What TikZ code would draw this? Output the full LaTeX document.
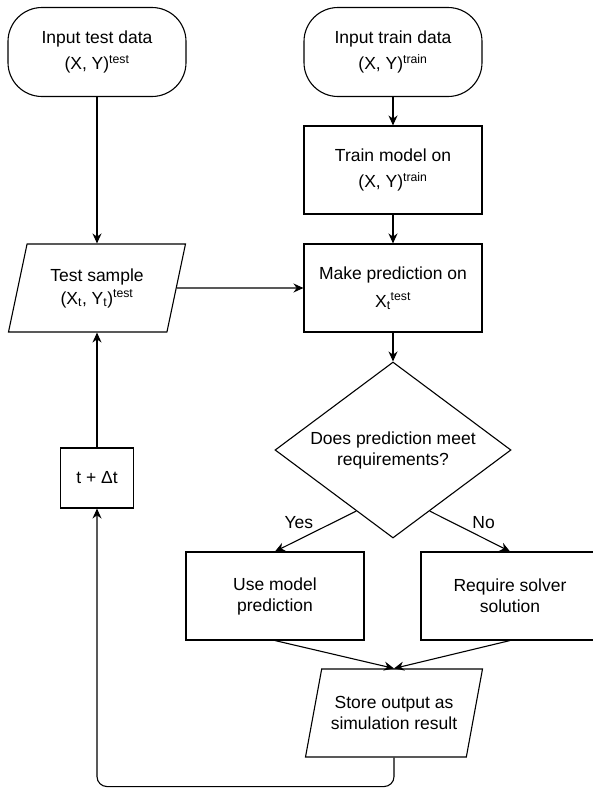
\documentclass[tikz,border=0pt]{standalone}
\usepackage{fontspec}
\setmainfont{Liberation Sans}
\usetikzlibrary{shapes.geometric,arrows.meta,calc}

\begin{document}
\begin{tikzpicture}[x=1pt, y=-1pt, auto,
    >={Stealth[length=10pt,width=9pt]},
    every node/.style={font=\fontsize{17.5}{21}\selectfont, align=center},
    terminal/.style ={rectangle, rounded corners=34pt, draw, line width=1.1pt, minimum width=178pt, minimum height=89pt},
    process/.style ={rectangle, draw, line width=1.1pt, minimum width=178pt, minimum height=88pt},
    inout/.style ={trapezium, trapezium left angle=68, trapezium right angle=112, trapezium stretches body, draw, line width=1.1pt, minimum width=177pt, minimum height=88pt},
    decision/.style ={diamond, draw, line width=1.1pt, minimum width=236pt, minimum height=176pt, aspect=1.34, inner sep=0pt}]
   \useasboundingbox (0,0) rectangle (593,790);
   \node[terminal] (tdata) at (97,52) {Input test data\\[5pt](X, Y)\textsuperscript{test}};
   \node[terminal] (trdata) at (393,52) {Input train data\\[5pt](X, Y)\textsuperscript{train}};
   \node[process] (train) at (393,170) {Train model on\\[5pt](X, Y)\textsuperscript{train}};
   \node[inout] (sample) at (97,288) {Test sample\\[2pt](X\textsubscript{t}, Y\textsubscript{t})\textsuperscript{test}};
   \node[process] (pred) at (393,288) {Make prediction on\\[7pt]X\textsubscript{t}\textsuperscript{test}};
   \node[decision] (check) at (393,450) {Does prediction meet\\requirements?};
   \node[process] (usepred) at (275,596) {Use model\\prediction};
   \node[process] (solver) at (510,596) {Require solver\\solution};
   \node[inout] (store) at (394,713) {Store output as\\simulation result};
   \node[process, minimum width=73pt, minimum height=60pt] (step) at (97,478) {t + Δt};
   \draw[line width=1.1pt, ->] (tdata) to (sample);
   \draw[line width=1.1pt, ->] (trdata) to (train);
   \draw[line width=1.1pt, ->] (train) to (pred);
   \draw[line width=1.1pt, ->] (sample.east) to (pred.west);
   \draw[line width=1.1pt, ->] (pred) to (check);
   \draw[line width=1.1pt, ->] ($(check.west)!0.69!(check.south)$) to node[above left, inner sep=2pt] {Yes} (usepred.north);
   \draw[line width=1.1pt, ->] ($(check.east)!0.69!(check.south)$) to node[above right, inner sep=2pt] {No} (solver.north);
   \draw[line width=1.1pt, ->] (usepred.south) to (store.north);
   \draw[line width=1.1pt, ->] (solver.south) to (store.north);
   \draw[line width=1.1pt, ->, rounded corners=10pt] (store.south) -- ++(0,29) -| (step.south);
   \draw[line width=1.1pt, ->] (step) to (sample);
 \end{tikzpicture}
\end{document}
